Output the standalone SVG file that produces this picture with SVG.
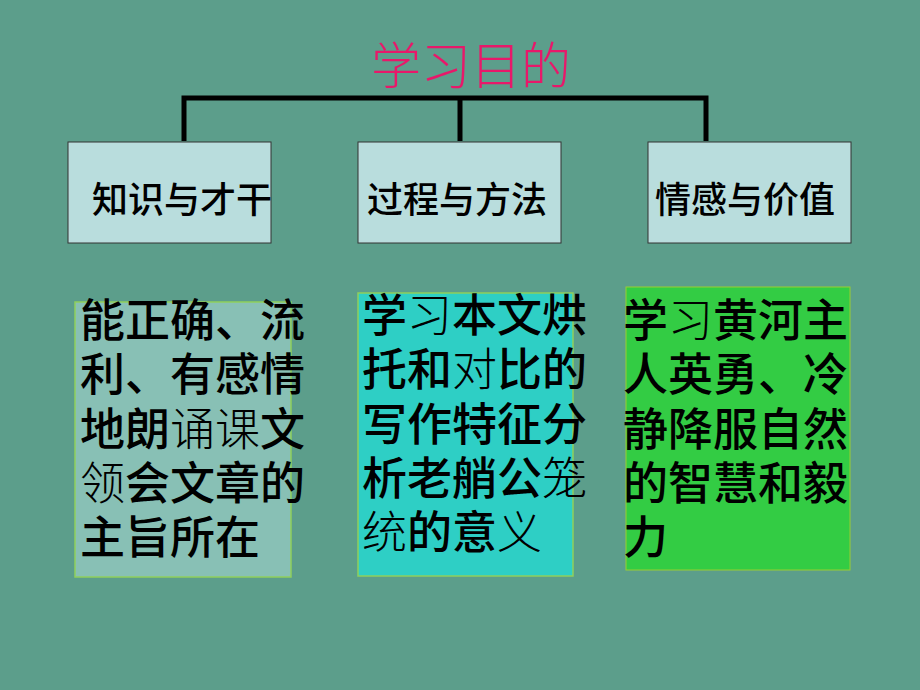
<svg xmlns="http://www.w3.org/2000/svg" width="920" height="690" viewBox="0 0 920 690">
<style>
.top{fill:#b9dddd;stroke:#333;stroke-width:1}
.lbl{font-family:"Noto Sans CJK SC","Noto Sans CJK TC",sans-serif;font-size:36px;font-weight:500;fill:#000}
.big{font-family:"Noto Sans CJK SC","Noto Sans CJK TC",sans-serif;font-size:45px;font-weight:500;fill:#000}
.thin{font-weight:300}
.conn{stroke:#000;stroke-width:5;fill:none}
</style>
<rect width="920" height="690" fill="#5c9e8b"/>
<text x="471" y="84" text-anchor="middle" font-family="'Noto Sans CJK SC',sans-serif" font-size="50" font-weight="300" fill="#e8186a">学习目的</text>
<g id="connectors">
<path class="conn" d="M184,141 V98 H706 V141 M460,98 V141"/>
</g>
<g id="n1"><rect class="top" x="68" y="142" width="203" height="101"/><text class="lbl" x="92" y="213">知识与才干</text></g>
<g id="n2"><rect class="top" x="358" y="142" width="203" height="101"/><text class="lbl" x="367" y="213">过程与方法</text></g>
<g id="n3"><rect class="top" x="648" y="142" width="203" height="101"/><text class="lbl" x="655" y="213">情感与价值</text></g>
<g id="d1">
<rect x="75" y="302" width="216" height="275" fill="#88c0b5" stroke="#8fcf5c" stroke-width="1.5"/>
<text class="big" x="80" y="337">能正确、流</text>
<text class="big" x="80" y="391">利、有感情</text>
<text class="big" x="80" y="446">地朗<tspan class="thin">诵课</tspan>文</text>
<text class="big" x="80" y="500"><tspan class="thin">领</tspan>会文章的</text>
<text class="big" x="80" y="554">主旨所在</text>
</g>
<g id="d2">
<rect x="358" y="293" width="215" height="283" fill="#2ecfc5" stroke="#8fcf5c" stroke-width="1.5"/>
<text class="big" x="362" y="332">学<tspan class="thin">习</tspan>本文烘</text>
<text class="big" x="362" y="386">托和<tspan class="thin">对</tspan>比的</text>
<text class="big" x="362" y="441">写作特征分</text>
<text class="big" x="362" y="495">析老艄公<tspan class="thin">笼</tspan></text>
<text class="big" x="362" y="549"><tspan class="thin">统</tspan>的意<tspan class="thin">义</tspan></text>
</g>
<g id="d3">
<rect x="626" y="287" width="224" height="283" fill="#33cc44" stroke="#9acd32" stroke-width="1"/>
<text class="big" x="623" y="337">学<tspan class="thin">习</tspan>黄河主</text>
<text class="big" x="623" y="391">人英勇、冷</text>
<text class="big" x="623" y="446">静降服自然</text>
<text class="big" x="623" y="500">的智慧和毅</text>
<text class="big" x="623" y="554">力</text>
</g>
</svg>
